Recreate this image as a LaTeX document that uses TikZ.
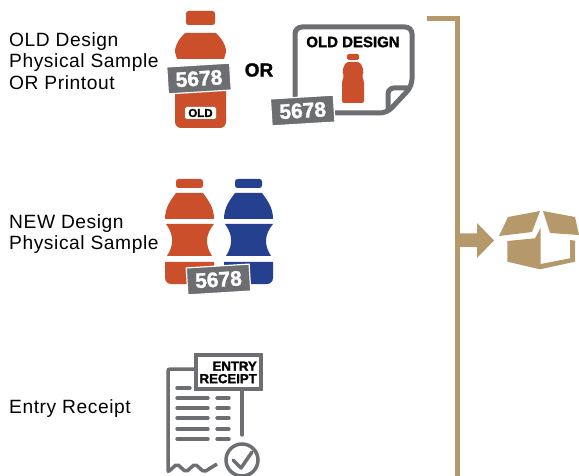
\documentclass[tikz,border=0pt]{standalone}
\usepackage{fontspec}
\setmainfont{Liberation Sans}
\newfontfamily\labelfont[LetterSpace=3]{Liberation Sans}
\newfontfamily\heavyfont[FakeBold=1.5]{Liberation Sans Bold}
\definecolor{rustred}{HTML}{CB4F2A}
\definecolor{navyblue}{HTML}{25408F}
\definecolor{tagrey}{HTML}{6D6E71}
\definecolor{boxtan}{HTML}{B5996B}
\tikzset{
  sidelabel/.style={anchor=west,align=left,inner sep=0pt,font=\fontsize{19.2}{21.5}\selectfont\labelfont},
  tagbox/.style={fill=tagrey,draw=white,line width=1.2pt,minimum width=63pt,minimum height=27pt,inner sep=0pt,rotate=3.5,text=white,font=\fontsize{21}{21}\selectfont\heavyfont},
  greyline/.style={draw=tagrey,line width=3.5pt},
  paperline/.style={draw=tagrey,line width=5pt},
  rowline/.style={draw=tagrey,line width=3.4pt,line cap=round}
}
\newcommand{\drinkbottle}[2]{%
  \begin{scope}[shift={(#1,0)}]
    \fill[#2,rounded corners=2.5pt] (176,188) -- (176,179) -- (203,179) -- (203,188) -- cycle;
    \fill[#2] (176,193) -- (203,193) .. controls (208,200) and (214,207) .. (214,219) -- (165,219) .. controls (165,207) and (171,200) .. (176,193) -- cycle;
    \fill[#2] (166,224) -- (214,224) .. controls (205,235) and (205,245) .. (212,256) -- (167,256) .. controls (174,245) and (174,235) .. (166,224) -- cycle;
    \fill[#2] (165,262) -- (214,262) -- (214,278) arc (0:90:6) -- (171,284) arc (90:180:6) -- cycle;
  \end{scope}}
\begin{document}
\begin{tikzpicture}[x=1pt,y=-1pt]
  \useasboundingbox (0,0) rectangle (579,476);
  % old design row
  \node[sidelabel] (oldtext) at (9,61) {OLD Design\\Physical Sample\\OR Printout};
  \fill[rustred,rounded corners=2.5pt] (186,11) rectangle (215,25);
  \fill[rustred] (185,33) -- (216,33) .. controls (221,38) and (226,44) .. (226,52) -- (224,59) -- (177,59) -- (175,52) .. controls (175,44) and (180,38) .. (185,33) -- cycle;
  \fill[rustred] (175,90) -- (226,90) -- (226,122) arc (0:90:6) -- (181,128) arc (90:180:6) -- cycle;
  \node[tagbox] (tagone) at (199,78.5) {5678};
  \node[fill=white,rounded corners=1.5pt,minimum width=31pt,minimum height=12pt,inner sep=0pt,font=\fontsize{11.5}{11.5}\selectfont\heavyfont] (oldtag) at (200.5,113) {OLD};
  \node[font=\fontsize{19}{19}\selectfont\heavyfont,inner sep=0pt] (ortext) at (259,70) {OR};
  \draw[paperline,rounded corners=7pt] (295,100) -- (295,27) -- (412,27) -- (412,86) -- (387,113) -- (325,113);
  \draw[paperline,rounded corners=6pt] (410,88) -- (388,88) -- (388,112);
  \node[font=\fontsize{15}{15}\selectfont\heavyfont,inner sep=0pt] (designtext) at (353,42) {OLD DESIGN};
  \fill[rustred,rounded corners=1.5pt] (347,54) rectangle (359,60);
  \fill[rustred,rounded corners=2pt] (346,62) -- (360,62) -- (364,71) -- (362,76) -- (364,81) -- (364,103) -- (342,103) -- (342,81) -- (344,76) -- (342,71) -- cycle;
  \node[tagbox] (tagtwo) at (302.7,110.5) {5678};
  % new design row
  \node[sidelabel] (newtext) at (9,234) {NEW Design\\Physical Sample};
  \drinkbottle{0}{rustred}
  \drinkbottle{59}{navyblue}
  \node[tagbox] (tagthree) at (218.5,279.5) {5678};
  % receipt row
  \node[sidelabel] (receipttext) at (9,408.5) {Entry Receipt};
  \draw[greyline,rounded corners=2pt] (195,369) -- (168,369) -- (168,472) -- (177,464) -- (186,472) -- (195,464) -- (204,472) -- (217,464);
  \draw[rowline] (242,390) -- (242,435);
  \node[draw=tagrey,line width=3.5pt,fill=white,minimum width=65pt,minimum height=34pt,inner sep=0pt] (receiptbox) at (228.5,372) {};
  \node[anchor=east,align=right,inner sep=0pt,font=\fontsize{13.2}{12.5}\selectfont\heavyfont] (receipthead) at (257,372.5) {ENTRY\\RECEIPT};
  \draw[rowline] (177,388) -- (190,388);
  \foreach \y in {398,408,418,429,439} {
    \draw[rowline] (177,\y) -- (208,\y);
    \draw[rowline] (217,\y) -- (229,\y);
  }
  \node[circle,draw=tagrey,line width=3.5pt,minimum size=32pt,inner sep=0pt] (checkmark) at (242,460) {};
  \draw[greyline,line cap=round,line join=round] (233,460) -- (241,468) -- (252,452);
  % bracket and box
  \coordinate (brackettop) at (427,18.5);
  \coordinate (bracketbottom) at (457.5,476);
  \draw[boxtan,line width=5pt] (brackettop) -| (bracketbottom);
  \fill[boxtan] (460,233.5) -- (477,233.5) -- (477,223) -- (494,240.5) -- (477,258) -- (477,247) -- (460,247) -- cycle;
  \fill[boxtan] (508,217) -- (540,211) -- (532,232) -- (499,236) -- cycle;
  \fill[boxtan] (543,211) -- (575,217) -- (579,235) -- (550,233) -- cycle;
  \fill[boxtan] (507.3,241) -- (535,238.3) -- (540.7,227.7) -- (540.7,264) -- (570,258.3) -- (570,240) -- (575,240.7) -- (575,261.7) -- (540,269.3) -- (507.3,261.7) -- cycle;
\end{tikzpicture}
\end{document}
